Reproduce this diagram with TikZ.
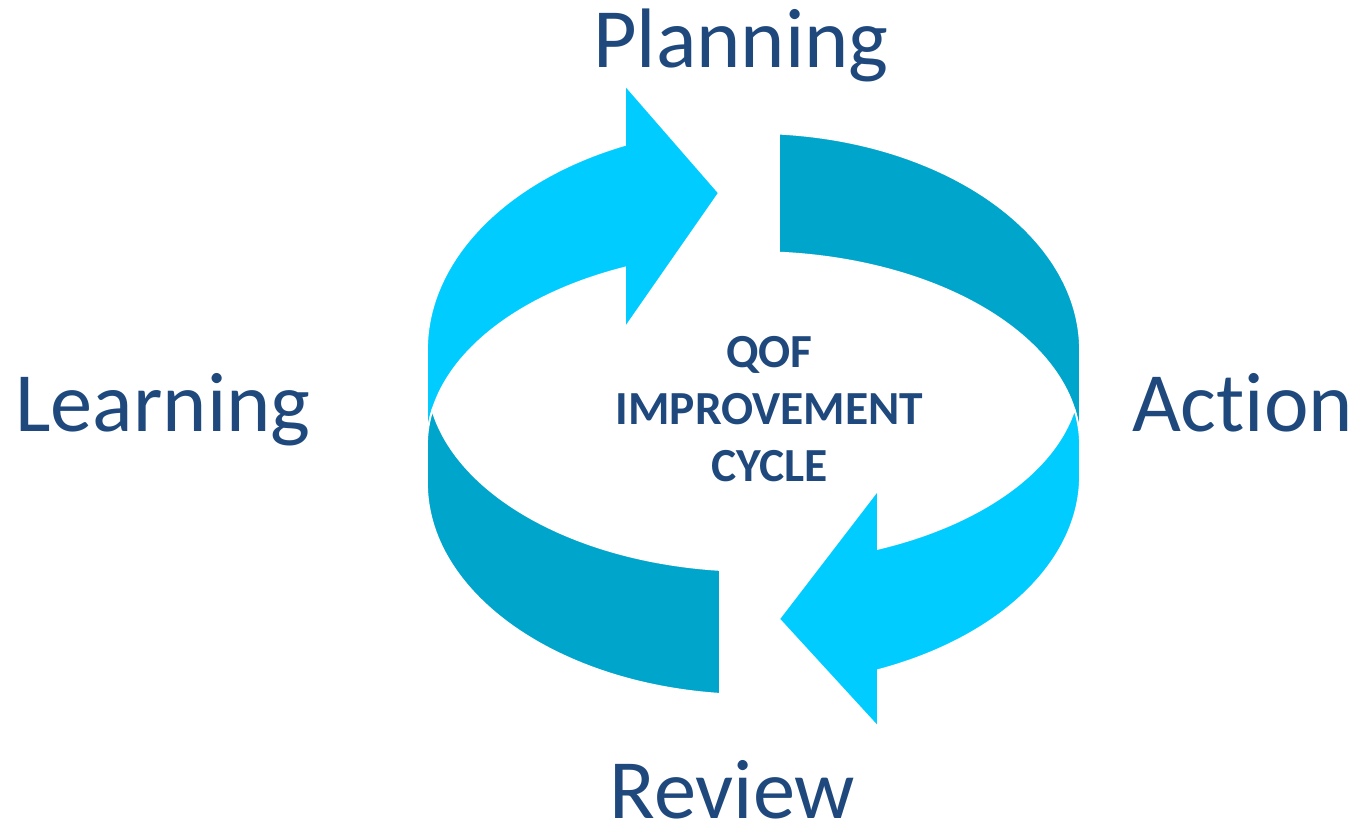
\documentclass[tikz,border=0pt]{standalone}
\usepackage{fontspec}
\setmainfont{Carlito}[Ligatures=NoCommon]
\definecolor{qoflight}{HTML}{00CCFF}
\definecolor{qofdark}{HTML}{00A5CC}
\definecolor{qoftext}{HTML}{1F497D}
\begin{document}
\begin{tikzpicture}[x=0.01cm,y=0.01cm,
		light/.style={fill=qoflight,draw=white,line width=.5pt},
		dark/.style={fill=qofdark,draw=white,line width=.5pt},
		stage/.style={text=qoftext,font=\fontsize{24}{28}\selectfont,anchor=base,inner sep=0pt}]
		\useasboundingbox (0,0) rectangle (1360,831);
		\filldraw [light] (427,386)--(427,481)
			arc[start angle=180,end angle=113.177,x radius=326.5,y radius=223]
			--(625,746)--(719,638)--(625,503)--(625,563.4)
			arc[start angle=113.177,end angle=180,x radius=326.5,y radius=193]--cycle;
		\filldraw [dark] (779,697.3)
			arc[start angle=85.521,end angle=0,x radius=326.5,y radius=217]
			--(1080,386)
			arc[start angle=0,end angle=85.521,x radius=326.5,y radius=193]--cycle;
		\filldraw [dark] (432.33,420.73)
			arc[start angle=169.633,end angle=180,x radius=326.5,y radius=193]
			--(427,348)
			arc[start angle=180,end angle=264.11,x radius=326.5,y radius=212]
			--(720,261)
			arc[start angle=264.11,end angle=190.367,x radius=326.5,y radius=196]--cycle;
		\filldraw [light] (1074.44,421.46)
			arc[start angle=10.587,end angle=0,x radius=326.5,y radius=193]
			--(1080,355)
			arc[start angle=360,end angle=292.414,x radius=326.5,y radius=210]
			--(878,104)--(779,212)--(878,341)--(878,282.2)
			arc[start angle=292.414,end angle=349.413,x radius=326.5,y radius=188]--cycle;
		\node [stage] (planning) at (741,763) {Planning};
		\node [stage] (learning) at (163,399) {Learning};
		\node [stage] (action) at (1242.5,399) {Action};
		\node [stage] (review) at (732.5,12) {Review};
		\node [text=qoftext,align=center,font=\fontsize{13.5}{16.2}\selectfont\bfseries] (cycle) at (769.5,422) {QOF\\IMPROVEMENT\\CYCLE};
		\end{tikzpicture}
\end{document}
